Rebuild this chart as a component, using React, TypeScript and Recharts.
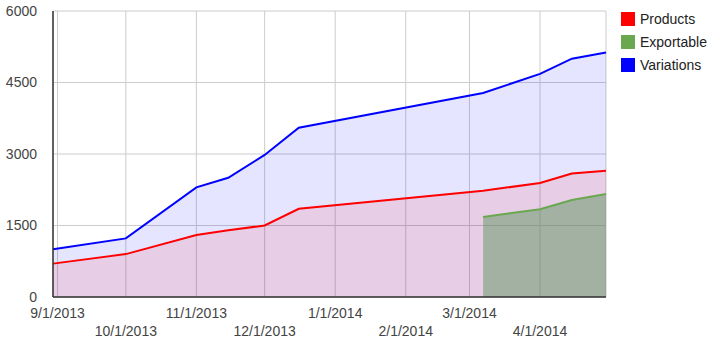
import React from "react"
import { AreaChart, Area, XAxis, YAxis, CartesianGrid } from "recharts"

// dates of each data point
const dates = [
    "2013-08-30",
    "2013-10-01",
    "2013-11-01",
    "2013-11-15",
    "2013-12-01",
    "2013-12-16",
    "2014-03-07",
    "2014-04-01",
    "2014-04-15",
    "2014-04-30",
]

const products = [700, 900, 1300, 1400, 1500, 1850, 2230, 2390, 2590, 2650]
const exportable = [null, null, null, null, null, null, 1680, 1840, 2035, 2160]
const variations = [1000, 1230, 2300, 2500, 2980, 3550, 4280, 4680, 5000, 5130]

const monthTicks = [
    "2013-09-01",
    "2013-10-01",
    "2013-11-01",
    "2013-12-01",
    "2014-01-01",
    "2014-02-01",
    "2014-03-01",
    "2014-04-01",
]
const yTicks = [0, 1500, 3000, 4500, 6000]

const legendItems = [
    { name: "Products", color: "#ff0000" },
    { name: "Exportable", color: "#6aa84f" },
    { name: "Variations", color: "#0000ff" },
]

const FONT = '"Liberation Sans", Arial, sans-serif'

const chartData = dates.map((d, i) => ({
    t: Date.parse(d),
    products: products[i],
    exportable: exportable[i],
    variations: variations[i],
}))

const tickValues = monthTicks.map((d) => Date.parse(d))

// M/D/YYYY like the original
const formatDate = (ts: number) => {
    const d = new Date(ts)
    return `${d.getUTCMonth() + 1}/${d.getUTCDate()}/${d.getUTCFullYear()}`
}

// labels alternate between two rows so they don't collide
const MonthTick = (props: any) => {
    const { x, y, payload, index } = props
    const row = index % 2 === 0 ? 21 : 39
    return (
        <text x={x} y={y + row} textAnchor="middle" fontSize={14} fill="#444" fontFamily={FONT}>
            {formatDate(payload.value)}
        </text>
    )
}

export default function App() {
    return (
        <div style={{ position: "absolute", left: 0, top: 0, width: 720, height: 352, fontFamily: FONT }}>
            <AreaChart
                width={720}
                height={352}
                data={chartData}
                margin={{ top: 11, right: 114, left: 0, bottom: 0 }}
            >
                <CartesianGrid stroke="#cccccc" />
                <XAxis
                    dataKey="t"
                    type="number"
                    domain={["dataMin", "dataMax"]}
                    ticks={tickValues}
                    interval={0}
                    tick={<MonthTick />}
                    tickLine={false}
                    tickSize={0}
                    tickMargin={0}
                    height={55}
                    axisLine={{ stroke: "#333", strokeWidth: 1.5 }}
                />
                <YAxis
                    domain={[0, 6000]}
                    ticks={yTicks}
                    width={53}
                    tickLine={false}
                    tickSize={0}
                    tickMargin={16}
                    axisLine={{ stroke: "#333", strokeWidth: 1.5 }}
                    tick={{ fontSize: 14, fill: "#444", fontFamily: FONT }}
                />
                <Area
                    type="linear"
                    dataKey="variations"
                    stroke="#0000ff"
                    strokeWidth={2}
                    fill="#0000ff"
                    fillOpacity={0.1}
                    dot={false}
                    activeDot={false}
                    isAnimationActive={false}
                />
                <Area
                    type="linear"
                    dataKey="products"
                    stroke="#ff0000"
                    strokeWidth={2}
                    fill="#ff0000"
                    fillOpacity={0.1}
                    dot={false}
                    activeDot={false}
                    isAnimationActive={false}
                />
                <Area
                    type="linear"
                    dataKey="exportable"
                    stroke="#6aa84f"
                    strokeWidth={2}
                    fill="#5e9560"
                    fillOpacity={0.5}
                    dot={false}
                    activeDot={false}
                    isAnimationActive={false}
                />
            </AreaChart>
            {/* legend on the right */}
            <div style={{ position: "absolute", left: 621, top: 11 }}>
                {legendItems.map((item) => (
                    <div key={item.name} style={{ display: "flex", alignItems: "center", height: 23 }}>
                        <span style={{ width: 14, height: 14, background: item.color, display: "inline-block", marginRight: 5, marginTop: -8 }} />
                        <span style={{ fontSize: 14, color: "#222", marginTop: -8 }}>{item.name}</span>
                    </div>
                ))}
            </div>
        </div>
    )
}
